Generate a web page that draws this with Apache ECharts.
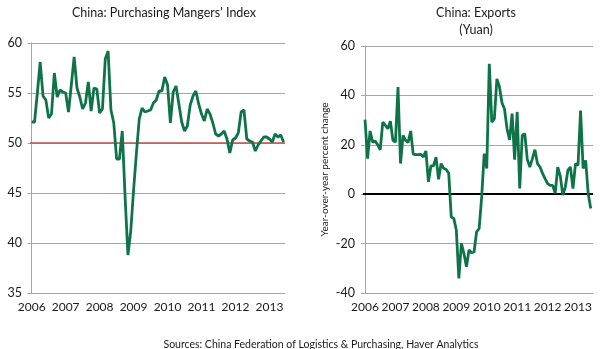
<!DOCTYPE html>
<html>
<head>
<meta charset="utf-8">
<script src="https://cdn.jsdelivr.net/npm/echarts@6/dist/echarts.min.js"></script>
<style>
html,body{margin:0;padding:0;background:#fff;}
#chart{width:600px;height:349px;}
</style>
</head>
<body>
<div id="chart"></div>
<script>
// Monthly data, Jan 2006 .. Jun 2013
const yearLabels = ['2006','2007','2008','2009','2010','2011','2012','2013'];
const pmi = [
  52.1, 52.1, 55.0, 58.1, 54.7, 54.3, 52.5, 52.9, 57.0, 54.6, 55.3, 55.1,
  55.0, 53.1, 55.8, 58.6, 55.5, 54.6, 53.4, 54.0, 56.1, 53.2, 55.5, 55.4,
  53.0, 53.4, 58.4, 59.2, 53.3, 52.0, 48.4, 48.4, 51.2, 44.6, 38.8, 41.2,
  45.3, 49.0, 52.4, 53.5, 53.1, 53.2, 53.3, 54.0, 54.3, 55.2, 55.2, 56.6,
  55.8, 52.0, 55.1, 55.7, 53.9, 52.1, 51.2, 51.7, 53.8, 54.7, 55.2, 53.9,
  52.9, 52.2, 53.4, 52.9, 52.0, 50.9, 50.7, 50.9, 51.2, 50.4, 49.0, 50.3,
  50.5, 51.0, 53.1, 53.3, 50.4, 50.2, 50.1, 49.2, 49.8, 50.2, 50.6, 50.6,
  50.4, 50.1, 50.9, 50.6, 50.8, 50.1
];
const exportsYoY = [
  30.2, 14.4, 25.6, 21.1, 21.5, 20.0, 18.0, 29.2, 27.9, 26.5, 29.6, 21.8,
  21.1, 43.4, 12.4, 23.8, 21.8, 21.0, 25.6, 16.2, 16.0, 16.0, 16.1, 15.1,
  17.5, 5.0, 11.5, 11.5, 15.0, 6.0, 12.4, 10.5, 10.0, 8.5, -9.2, -9.8,
  -14.5, -34.1, -19.9, -24.0, -29.4, -22.6, -23.7, -23.4, -15.2, -13.9, -1.1, 16.4,
  10.4, 52.8, 29.2, 30.6, 46.7, 43.5, 37.0, 34.5, 26.5, 22.0, 32.6, 14.0,
  33.3, 2.3, 23.8, 24.5, 14.0, 11.0, 14.4, 18.0, 12.4, 11.0, 8.4, 6.3,
  4.3, 3.6, 3.6, 0.3, 11.0, 7.3, -0.4, 3.0, 9.7, 11.0, 2.3, 12.4,
  11.7, 33.9, 10.4, 13.7, 0.3, -5.8
];
const pmiRef = 50;
const expRef = 0;

const FONT = 'Lato, "Open Sans", sans-serif';
const GREEN = '#0e7448';
const GRID = '#a6a6a6';
const yearTicks = yearLabels.map((_, i) => i * 12);

function xAxisFor(gridIndex, min, max) {
  return {
    type: 'value', gridIndex, min, max,
    axisLine: {show: true, lineStyle: {color: GRID, width: 1}},
    axisTick: {show: false},
    splitLine: {show: false},
    axisLabel: {
      customValues: yearTicks,
      formatter: v => yearLabels[Math.round(v / 12)],
      color: '#1a1a1a', fontFamily: FONT, fontSize: 12, margin: 8
    }
  };
}
function yAxisFor(gridIndex, min, max, interval, extra) {
  return Object.assign({
    type: 'value', gridIndex, min, max, interval,
    axisLine: {show: true, lineStyle: {color: GRID, width: 1}},
    axisTick: {show: true, length: 4, lineStyle: {color: GRID}},
    splitLine: {show: true, lineStyle: {color: GRID, width: 1}},
    axisLabel: {color: '#1a1a1a', fontFamily: FONT, fontSize: 12.5, margin: 8}
  }, extra || {});
}

const chart = echarts.init(document.getElementById('chart'), null, {renderer: 'canvas'});
chart.setOption({
  animation: false,
  backgroundColor: '#fff',
  title: [
    {text: "China: Purchasing Mangers' Index", left: 159, top: 1, textAlign: 'center',
     textStyle: {fontFamily: FONT, fontSize: 12.5, fontWeight: 'normal', color: '#1a1a1a'}},
    {text: 'China: Exports', left: 471, top: 1, textAlign: 'center',
     textStyle: {fontFamily: FONT, fontSize: 12.5, fontWeight: 'normal', color: '#1a1a1a'}},
    {text: '(Yuan)', left: 471, top: 18, textAlign: 'center',
     textStyle: {fontFamily: FONT, fontSize: 12.5, fontWeight: 'normal', color: '#1a1a1a'}},
    {text: 'Sources: China Federation of Logistics & Purchasing, Haver Analytics', left: 316, top: 334, textAlign: 'center',
     textStyle: {fontFamily: FONT, fontSize: 10.5, fontWeight: 'normal', color: '#1a1a1a'}}
  ],
  grid: [
    {left: 30, top: 43, width: 255, height: 250},
    {left: 363, top: 46, width: 230, height: 247}
  ],
  xAxis: [xAxisFor(0, -0.6, 89.5), xAxisFor(1, -0.8, 89.9)],
  yAxis: [
    yAxisFor(0, 35, 60, 5),
    yAxisFor(1, -40, 60, 20, {
      name: 'Year-over-year percent change', nameLocation: 'middle', nameRotate: 90, nameGap: 33,
      nameTextStyle: {fontFamily: FONT, fontSize: 10, color: '#1a1a1a'}
    })
  ],
  series: [
    {
      type: 'line', xAxisIndex: 0, yAxisIndex: 0, showSymbol: false,
      data: pmi.map((v, i) => [i, v]),
      lineStyle: {color: GREEN, width: 2.8}, z: 3,
      markLine: {silent: true, symbol: 'none', label: {show: false},
        lineStyle: {color: '#c0504d', width: 1.6, type: 'solid'},
        data: [{yAxis: pmiRef}], z: 2}
    },
    {
      type: 'line', xAxisIndex: 1, yAxisIndex: 1, showSymbol: false,
      data: exportsYoY.map((v, i) => [i, v]),
      lineStyle: {color: GREEN, width: 2.8}, z: 3,
      markLine: {silent: true, symbol: 'none', label: {show: false},
        lineStyle: {color: '#000', width: 1.8, type: 'solid'},
        data: [{yAxis: expRef}], z: 2}
    }
  ]
});
</script>
</body>
</html>
